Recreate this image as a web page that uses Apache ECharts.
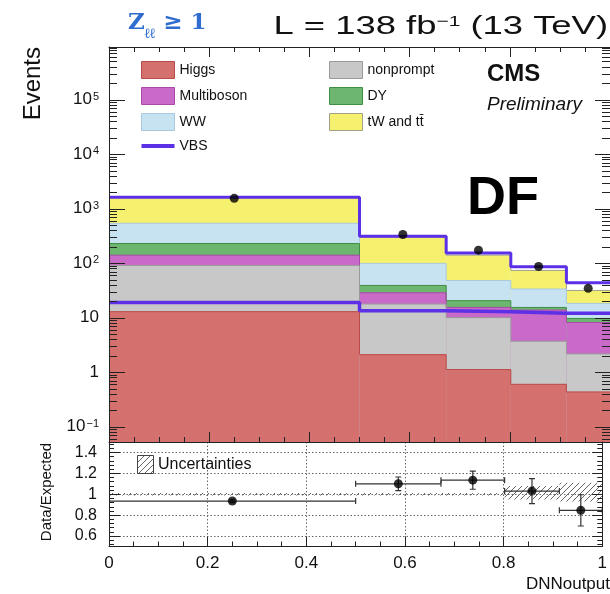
<!DOCTYPE html>
<html><head><meta charset="utf-8">
<script src="https://cdn.jsdelivr.net/npm/echarts@6/dist/echarts.min.js"></script>
<style>html,body{margin:0;padding:0;background:#fff}#c{width:610px;height:594px}</style>
</head><body><div id="c"></div>
<script>
// ---------------- data ----------------
const binEdges   = [0, 0.5, 0.673, 0.802, 0.913, 1.0];
const higgs      = [12.9, 2.1, 1.12, 0.6, 0.435];
const nonprompt  = [78, 15.7, 8.9, 3.1, 1.73];
const multiboson = [49, 10.8, 5.4, 10.1, 6.0];
const dy         = [89, 10.4, 5.1, 1.6, 1.5];
const ww         = [309, 60, 27.5, 18.2, 8.6];
const topTT      = [1062, 200, 92, 39.9, 13.3];
const vbs        = [19, 13.4, 12.9, 12, 12];
const dataCounts = [1545, 336, 173, 87, 34.5];
const ratioValues = [0.935, 1.10, 1.135, 1.03, 0.846];
const ratioErrors = [0.015, 0.065, 0.087, 0.12, 0.15];
const uncLow  = [0.988, 0.988, 0.988, 0.95, 0.93];
const uncHigh = [1.012, 1.012, 1.012, 1.08, 1.11];
const processNames = ['Higgs', 'nonprompt', 'Multiboson', 'DY', 'WW', 'tW and t\u0074\u0304'];
const processValues = [higgs, nonprompt, multiboson, dy, ww, topTT];

// ---------------- styles ----------------
const fillColors = ['#d4706e', '#c8c8c8', '#c96ac9', '#6cb670', '#c7e2f0', '#f5f06e'];
const lineColors = ['#b84a48', '#9a9a9a', '#a84aa8', '#3e8e44', '#a9cade', '#a0a088'];
const vbsColor = '#5b30e6';
const FONT = '"Liberation Sans", Arial, Helvetica, sans-serif';
const yMin = Math.pow(10, -1.28), yMax = Math.pow(10, 5.964);

const nb = binEdges.length - 1;
const cum = [];
processValues.forEach((arr, p) => {
  cum.push(arr.map((v, b) => (p > 0 ? cum[p - 1][b] : 0) + v));
});
const total = cum[cum.length - 1].map((v, b) => v + vbs[b]);
const centers = binEdges.slice(0, nb).map((e, i) => (e + binEdges[i + 1]) / 2);
function stepData(vals) {
  return binEdges.map((e, i) => [e, vals[Math.min(i, nb - 1)]]);
}

// hatch pattern
const pc = document.createElement('canvas');
pc.width = 6; pc.height = 6;
const g = pc.getContext('2d');
g.strokeStyle = '#666'; g.lineWidth = 1;
g.beginPath(); g.moveTo(0, 6); g.lineTo(6, 0);
g.moveTo(-1, 1); g.lineTo(1, -1); g.moveTo(5, 7); g.lineTo(7, 5); g.stroke();
const hatch = { image: pc, repeat: 'repeat' };

const series = [];
for (let p = processNames.length - 1; p >= 0; p--) {
  series.push({
    name: processNames[p], type: 'custom', xAxisIndex: 0, yAxisIndex: 0, clip: true, silent: true,
    itemStyle: { color: fillColors[p], borderColor: lineColors[p], borderWidth: 1 },
    data: cum[p].map((v, b) => [binEdges[b], binEdges[b + 1], v]),
    renderItem: (params, api) => {
      const a = api.coord([api.value(0), api.value(2)]);
      const c = api.coord([api.value(1), yMin]);
      return { type: 'rect', shape: { x: a[0], y: a[1], width: c[0] - a[0], height: c[1] - a[1] },
               style: { fill: fillColors[p], stroke: null } };
    }
  });
  series.push({
    name: processNames[p] + '_outline', type: 'line', xAxisIndex: 0, yAxisIndex: 0, step: 'end',
    symbol: 'none', silent: true, data: stepData(cum[p]),
    lineStyle: { color: lineColors[p], width: 1 }
  });
}
series.push({
  name: 'VBS', type: 'line', xAxisIndex: 0, yAxisIndex: 0, step: 'end', symbol: 'none', silent: true,
  color: vbsColor, data: stepData(vbs), lineStyle: { color: vbsColor, width: 3.5 }
});
series.push({
  name: 'total', type: 'line', xAxisIndex: 0, yAxisIndex: 0, step: 'end', symbol: 'none', silent: true,
  data: stepData(total), lineStyle: { color: vbsColor, width: 3 }
});
series.push({
  name: 'Data', type: 'scatter', xAxisIndex: 0, yAxisIndex: 0, symbolSize: 9, silent: true,
  itemStyle: { color: '#000' }, z: 8, data: centers.map((x, i) => [x, dataCounts[i]])
});
// log-axis tick marks (axis decoration: majors at powers of ten, minors at 2..9)
series.push({
  name: 'logTicks', type: 'custom', xAxisIndex: 0, yAxisIndex: 0, clip: false, silent: true, z: 12,
  data: [[0, 1]],
  renderItem: (params, api) => {
    const ch = [];
    for (let k = -2; k <= 6; k++) for (let m = 1; m <= 9; m++) {
      const v = m * Math.pow(10, k);
      if (v <= yMin || v >= yMax) continue;
      const l = api.coord([0, v]), r = api.coord([1, v]);
      const y = Math.round(l[1]) + 0.5;
      const lenL = m === 1 ? 16 : 8, lenR = m === 1 ? 15 : 8;
      ch.push({ type: 'line', shape: { x1: l[0], y1: y, x2: l[0] + lenL, y2: y }, style: { stroke: '#222', lineWidth: 1 } });
      ch.push({ type: 'line', shape: { x1: r[0], y1: y, x2: r[0] - lenR, y2: y }, style: { stroke: '#222', lineWidth: 1 } });
    }
    return { type: 'group', children: ch };
  }
});
// ratio: uncertainty band
series.push({
  name: 'Uncertainties', type: 'custom', xAxisIndex: 2, yAxisIndex: 2, clip: true, silent: true, z: 3,
  data: uncLow.map((lo, b) => [binEdges[b], binEdges[b + 1], lo, uncHigh[b]]),
  renderItem: (params, api) => {
    const a = api.coord([api.value(0), api.value(3)]);
    const c = api.coord([api.value(1), api.value(2)]);
    return { type: 'rect', shape: { x: a[0], y: a[1], width: c[0] - a[0], height: c[1] - a[1] },
             style: { fill: hatch, stroke: null } };
  }
});
// ratio: error bars
series.push({
  name: 'ratioErr', type: 'custom', xAxisIndex: 2, yAxisIndex: 2, clip: true, silent: true, z: 4,
  data: ratioValues.map((r, b) => [centers[b], binEdges[b], binEdges[b + 1], r, r - ratioErrors[b], r + ratioErrors[b]]),
  renderItem: (params, api) => {
    const L = api.coord([api.value(1), api.value(3)]);
    const R = api.coord([api.value(2), api.value(3)]);
    const T = api.coord([api.value(0), api.value(5)]);
    const B = api.coord([api.value(0), api.value(4)]);
    const st = { stroke: '#333', lineWidth: 1.2 };
    return { type: 'group', children: [
      { type: 'line', shape: { x1: L[0], y1: L[1], x2: R[0], y2: R[1] }, style: st },
      { type: 'line', shape: { x1: L[0], y1: L[1] - 3, x2: L[0], y2: L[1] + 3 }, style: st },
      { type: 'line', shape: { x1: R[0], y1: R[1] - 3, x2: R[0], y2: R[1] + 3 }, style: st },
      { type: 'line', shape: { x1: T[0], y1: T[1], x2: B[0], y2: B[1] }, style: st },
      { type: 'line', shape: { x1: T[0] - 3, y1: T[1], x2: T[0] + 3, y2: T[1] }, style: st },
      { type: 'line', shape: { x1: B[0] - 3, y1: B[1], x2: B[0] + 3, y2: B[1] }, style: st }
    ] };
  }
});
series.push({
  name: 'Ratio', type: 'scatter', xAxisIndex: 2, yAxisIndex: 2, symbolSize: 9, silent: true, z: 5,
  itemStyle: { color: '#000' }, data: centers.map((x, i) => [x, ratioValues[i]])
});

function logLabel(v) {
  const e = Math.round(Math.log10(v));
  if (Math.abs(Math.log10(v) - e) > 1e-6) return '';
  if (e === 0) return '{b|1}';
  if (e === 1) return '{b|10}';
  return '{b|10}{e|' + (e < 0 ? '\u2212' + (-e) : e) + '}';
}
const tickBase = { show: true, inside: true, lineStyle: { color: '#222', width: 1 } };
const axisLineBase = { show: true, onZero: false, lineStyle: { color: '#222', width: 1 } };

const option = {
  animation: false,
  backgroundColor: '#fff',
  grid: [
    { left: 109, top: 47, width: 502, height: 395 },
    { left: 109, top: 442, width: 502, height: 104.5 }
  ],
  xAxis: [
    { type: 'value', gridIndex: 0, min: 0, max: 1, interval: 0.2, position: 'bottom', z: 10,
      axisLine: axisLineBase, axisTick: Object.assign({}, tickBase, { length: 10 }),
      minorTick: { show: true, splitNumber: 4, length: 5, lineStyle: { color: '#222' } },
      axisLabel: { show: false }, splitLine: { show: false } },
    { type: 'value', gridIndex: 0, min: 0, max: 1, interval: 0.2, position: 'top', z: 10,
      axisLine: axisLineBase, axisTick: Object.assign({}, tickBase, { length: 10 }),
      minorTick: { show: true, splitNumber: 4, length: 5, lineStyle: { color: '#222' } },
      axisLabel: { show: false }, splitLine: { show: false } },
    { type: 'value', gridIndex: 1, min: 0, max: 1, interval: 0.2, position: 'bottom', z: 10,
      axisLine: axisLineBase, axisTick: Object.assign({}, tickBase, { length: 10 }),
      minorTick: { show: true, splitNumber: 4, length: 5, lineStyle: { color: '#222' } },
      axisLabel: { show: true, fontSize: 17, color: '#111', fontFamily: FONT, margin: 8 },
      splitLine: { show: true, lineStyle: { type: [1.5, 2], color: '#666', width: 1 } } }
  ],
  yAxis: [
    { type: 'log', gridIndex: 0, min: yMin, max: yMax, logBase: 10, position: 'left', z: 10,
      axisLine: axisLineBase, axisTick: { show: false },
      axisLabel: { show: true, showMinLabel: false, showMaxLabel: false, formatter: logLabel, margin: 10,
        color: '#111', fontFamily: FONT, fontSize: 17,
        rich: { b: { fontSize: 17, fontFamily: FONT, color: '#111' },
                e: { fontSize: 11, fontFamily: FONT, color: '#111', verticalAlign: 'top', padding: [0, 0, 0, 1] } } },
      splitLine: { show: false } },
    { type: 'log', gridIndex: 0, min: yMin, max: yMax, logBase: 10, position: 'right', z: 10,
      axisLine: axisLineBase, axisTick: { show: false },
      axisLabel: { show: false }, splitLine: { show: false } },
    { type: 'value', gridIndex: 1, min: 0.5, max: 1.5, splitNumber: 5, position: 'left', z: 10,
      axisLine: axisLineBase, axisTick: Object.assign({}, tickBase, { length: 11 }),
      minorTick: { show: true, splitNumber: 5, length: 5, lineStyle: { color: '#222' } },
      axisLabel: { show: true, showMinLabel: false, showMaxLabel: false, fontSize: 16, color: '#111',
        fontFamily: FONT, margin: 12,
        formatter: v => (Math.abs(v - 0.5) < 1e-6 || Math.abs(v - 1.5) < 1e-6) ? '' : String(Math.round(v * 10) / 10) },
      splitLine: { show: true, lineStyle: { type: [1.5, 2], color: '#666', width: 1 } } },
    { type: 'value', gridIndex: 1, min: 0.5, max: 1.5, splitNumber: 5, position: 'right', z: 10,
      axisLine: axisLineBase, axisTick: Object.assign({}, tickBase, { length: 10 }),
      minorTick: { show: true, splitNumber: 5, length: 5, lineStyle: { color: '#222' } },
      axisLabel: { show: false }, splitLine: { show: false } }
  ],
  legend: [
    { left: 141, top: 61, padding: 0, orient: 'vertical', itemWidth: 33, itemHeight: 17, itemGap: 8, selectedMode: false,
      textStyle: { fontSize: 14, fontFamily: FONT, color: '#111' },
      data: [
        { name: 'Higgs', icon: 'rect', itemStyle: { color: fillColors[0], borderColor: lineColors[0], borderWidth: 1 } },
        { name: 'Multiboson', icon: 'rect', itemStyle: { color: fillColors[2], borderColor: lineColors[2], borderWidth: 1 } },
        { name: 'WW', icon: 'rect', itemStyle: { color: fillColors[4], borderColor: lineColors[4], borderWidth: 1 } },
        { name: 'VBS', icon: 'path://M0,0L40,0L40,5L0,5Z', itemStyle: { color: vbsColor, borderWidth: 0 } }
      ] },
    { left: 329, top: 61, padding: 0, orient: 'vertical', itemWidth: 33, itemHeight: 17, itemGap: 8, selectedMode: false,
      textStyle: { fontSize: 14, fontFamily: FONT, color: '#111' },
      data: [
        { name: 'nonprompt', icon: 'rect', itemStyle: { color: fillColors[1], borderColor: lineColors[1], borderWidth: 1 } },
        { name: 'DY', icon: 'rect', itemStyle: { color: fillColors[3], borderColor: lineColors[3], borderWidth: 1 } },
        { name: processNames[5], icon: 'rect', itemStyle: { color: fillColors[5], borderColor: lineColors[5], borderWidth: 1 } }
      ] }
  ],
  graphic: [
    { type: 'text', left: 128, top: 12, z: 20,
      style: { text: '{z|Z}{s|\u2113\u2113}{z| \u2265 1}', fill: '#2f6cd0',
        rich: { z: { fontSize: 23, fontWeight: 'bold', fontFamily: '"DejaVu Serif", serif', fill: '#2f6cd0', padding: [0, 0, 6, 0] },
                s: { fontSize: 14, fontWeight: 'bold', fontFamily: '"DejaVu Serif", serif', fill: '#2f6cd0', verticalAlign: 'bottom' } } } },
    { type: 'text', x: 608, y: 27, scaleX: 1.4, z: 20,
      style: { text: '{a|L = 138 fb}{s|\u22121}{a| (13 TeV)}', fill: '#111', align: 'right', verticalAlign: 'middle',
        rich: { a: { fontSize: 26, fontFamily: FONT, fill: '#111' },
                s: { fontSize: 15, fontFamily: FONT, fill: '#111', verticalAlign: 'top' } } } },
    { type: 'text', left: 487, top: 62, z: 20,
      style: { text: 'CMS', fontSize: 24, fontWeight: 'bold', fontFamily: FONT, fill: '#111' } },
    { type: 'text', left: 487, top: 95, z: 20,
      style: { text: 'Preliminary', fontSize: 19, fontStyle: 'italic', fontFamily: FONT, fill: '#111' } },
    { type: 'text', left: 467, top: 172, z: 20,
      style: { text: 'DF', fontSize: 54, fontWeight: 'bold', fontFamily: FONT, fill: '#000' } },
    { type: 'text', x: 33, y: 47, rotation: Math.PI / 2, z: 20,
      style: { text: 'Events', fontSize: 24, fontFamily: FONT, fill: '#111', align: 'right', verticalAlign: 'middle' } },
    { type: 'text', x: 47, y: 492, rotation: Math.PI / 2, z: 20,
      style: { text: 'Data/Expected', fontSize: 15, fontFamily: FONT, fill: '#111', align: 'center', verticalAlign: 'middle' } },
    { type: 'text', x: 610, y: 584, z: 20,
      style: { text: 'DNNoutput', fontSize: 17, fontFamily: FONT, fill: '#111', align: 'right', verticalAlign: 'middle' } },
    { type: 'rect', shape: { x: 137.5, y: 455.5, width: 16, height: 18 }, z: 20,
      style: { fill: hatch, stroke: '#444', lineWidth: 1 } },
    { type: 'text', x: 158, y: 465, z: 20,
      style: { text: 'Uncertainties', fontSize: 16, fontFamily: FONT, fill: '#111', align: 'left', verticalAlign: 'middle' } }
  ],
  series: series
};
const chart = echarts.init(document.getElementById('c'), null, { renderer: 'canvas', width: 610, height: 594 });
chart.setOption(option);
</script></body></html>
